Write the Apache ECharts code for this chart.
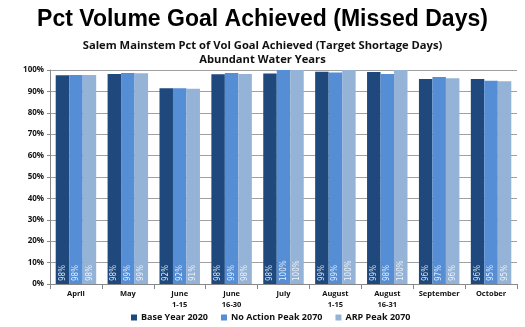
<!DOCTYPE html>
<html>
<head>
<meta charset="utf-8">
<script src="https://cdn.jsdelivr.net/npm/echarts@6/dist/echarts.min.js"></script>
<style>
html, body { margin: 0; padding: 0; background: #fff; }
#main { width: 525px; height: 327px; }
</style>
</head>
<body>
<div id="main"></div>
<script>
var categories = ['April', 'May', 'June\n1-15', 'June\n16-30', 'July', 'August\n1-15', 'August\n16-31', 'September', 'October'];
var baseYear = [97.5, 98.1, 91.5, 98.0, 98.4, 99.2, 99.1, 95.8, 95.8];
var noAction = [97.7, 98.6, 91.5, 98.6, 100, 98.8, 98.1, 96.7, 95.0];
var arpPeak = [97.7, 98.5, 91.2, 98.1, 100, 100, 100, 96.1, 94.7];
var seriesNames = ['Base Year 2020', 'No Action Peak 2070', 'ARP Peak 2070'];
var colors = ['#1F497D', '#558ED5', '#95B3D7'];

var myChart = echarts.init(document.getElementById('main'));

function makeSeries(name, data, color) {
    return {
        name: name,
        type: 'bar',
        data: data,
        itemStyle: { color: color },
        barGap: '0%',
        barCategoryGap: '22%',
        label: {
            show: true,
            position: 'insideBottom',
            rotate: 90,
            align: 'left',
            verticalAlign: 'middle',
            distance: 3,
            color: 'rgba(255,255,255,0.85)',
            fontFamily: 'DejaVu Sans Condensed',
            fontSize: 8,
            formatter: function (p) { return Math.round(p.value) + '%'; }
        }
    };
}

var subStyle = { fontFamily: 'Open Sans', fontSize: 11.2, fontWeight: 'bold', color: '#111' };

var option = {
    backgroundColor: '#fff',
    title: [
        {
            text: 'Pct Volume Goal Achieved (Missed Days)',
            left: 'center',
            top: 3,
            textStyle: { fontFamily: 'Liberation Sans', fontSize: 23, fontWeight: 'bold', color: '#000' }
        },
        {
            text: 'Salem Mainstem Pct of Vol Goal Achieved (Target Shortage Days)',
            left: 'center',
            top: 35,
            textStyle: subStyle
        },
        {
            text: 'Abundant Water Years',
            left: 'center',
            top: 49,
            textStyle: subStyle
        }
    ],
    legend: {
        data: seriesNames,
        bottom: 0,
        left: 126,
        itemWidth: 6,
        itemHeight: 6,
        itemGap: 13,
        icon: 'rect',
        textStyle: { fontFamily: 'Open Sans', fontSize: 9, fontWeight: 'bold', color: '#111', padding: [0, 0, 0, -1] }
    },
    grid: { left: 50, right: 8, top: 70, bottom: 43 },
    xAxis: {
        type: 'category',
        data: categories,
        axisLine: { lineStyle: { color: '#888' } },
        axisTick: { show: true, lineStyle: { color: '#888' } },
        axisLabel: { interval: 0, fontFamily: 'Open Sans', fontSize: 7.5, fontWeight: 'bold', color: '#111', lineHeight: 11, margin: 4 }
    },
    yAxis: {
        type: 'value',
        min: 0,
        max: 100,
        interval: 10,
        axisLine: { show: true, lineStyle: { color: '#888' } },
        axisTick: { show: true, length: 3, lineStyle: { color: '#888' } },
        splitLine: { lineStyle: { color: '#a0a0a0', width: 1 } },
        axisLabel: { fontFamily: 'Open Sans', fontSize: 8, fontWeight: 'bold', color: '#111', margin: 6, formatter: '{value}%' }
    },
    series: [
        makeSeries(seriesNames[0], baseYear, colors[0]),
        makeSeries(seriesNames[1], noAction, colors[1]),
        makeSeries(seriesNames[2], arpPeak, colors[2])
    ]
};
myChart.setOption(option);
</script>
</body>
</html>
